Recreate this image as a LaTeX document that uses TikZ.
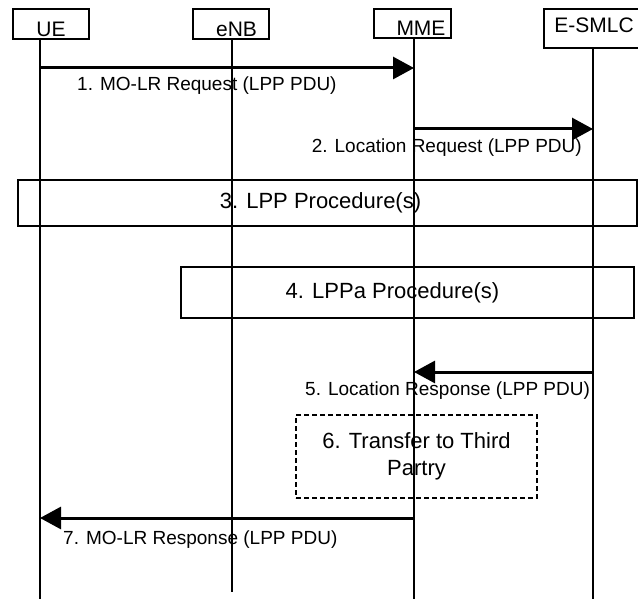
\documentclass[tikz,border=0pt]{standalone}
\usepackage{fontspec}
\setmainfont{Liberation Sans}
\usetikzlibrary{arrows.meta}

\begin{document}
\begin{tikzpicture}[x=1pt, y=-1pt,
    entity/.style={draw, line width=1.2pt, inner sep=0pt, font=\fontsize{21}{25}\selectfont,
        minimum height=30pt, text height=25pt, text depth=0pt},
    proc/.style={draw, line width=1.2pt, inner sep=0pt, font=\fontsize{22}{27}\selectfont, align=center},
    msg/.style={line width=3pt, -{Triangle[length=21pt, width=22pt]}},
    msglabel/.style={inner sep=0pt, font=\fontsize{19}{23}\selectfont},
    lifeline/.style={line width=1.2pt},
]
\useasboundingbox (0,0) rectangle (638,599);

% ---- entities ----
\node[entity, minimum width=76pt] (ue) at (51,24) {UE};
\node[entity, minimum width=76pt] (enb) at (231,24) {\kern11pt eNB};
\node[entity, minimum width=77pt, minimum height=29pt] (mme) at (412.5,23.5) {\kern17pt MME};
\node[entity, minimum width=100pt, minimum height=39pt, text height=9pt] (smlc) at (594,28.5) {E-SMLC};

% lifeline ends
\coordinate (ue-end) at (40,599);
\coordinate (enb-end) at (232,592);
\coordinate (mme-end) at (414,599);
\coordinate (smlc-end) at (593,599);

\draw[lifeline] (ue.south -| ue-end) -- (ue-end);
\draw[lifeline] (enb.south -| enb-end) -- (enb-end);
\draw[lifeline] (mme.south -| mme-end) -- (mme-end);
\draw[lifeline] (smlc.south -| smlc-end) -- (smlc-end);

% ---- messages ----
\draw[msg] (ue-end |- 0,68) -- (mme-end |- 0,68);
\node[msglabel, anchor=base west] (req) at (77,91) {1. MO-LR Request (LPP PDU)};

\draw[msg] (mme-end |- 0,129) -- (smlc-end |- 0,129);
\node[msglabel, anchor=base east] (locreq) at (582,153) {2. Location Request (LPP PDU)};

\node[proc, minimum width=619pt, minimum height=46pt] (lpp) at (327.5,203) {3. LPP Procedure(s)\kern14pt};
\node[proc, minimum width=453pt, minimum height=51pt] (lppa) at (407.5,292.5) {4. LPPa Procedure(s)\kern30pt};

\draw[msg] (smlc-end |- 0,372) -- (mme-end |- 0,372);
\node[msglabel, anchor=base west] (locresp) at (305,395) {5. Location Response (LPP PDU)};

\node[proc, dashed, dash pattern=on 5pt off 3pt, line width=1.6pt, minimum width=241pt, minimum height=83pt]
    (third) at (416.5,456.5) {6. Transfer to Third\\Partry};

\draw[msg] (mme-end |- 0,518) -- (ue-end |- 0,518);
\node[msglabel, anchor=base west] (resp) at (63,544) {7. MO-LR Response (LPP PDU)};

\end{tikzpicture}
\end{document}
